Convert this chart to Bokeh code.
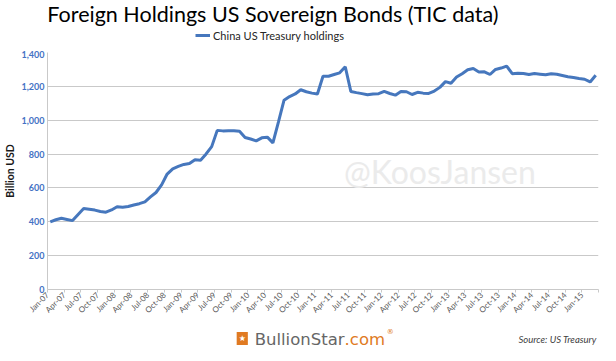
import math
from bokeh.plotting import figure
from bokeh.layouts import column
from bokeh.models import (Range1d, FixedTicker, NumeralTickFormatter, Legend, LegendItem,
                          Label, ColumnDataSource)
from bokeh.embed import file_html
from bokeh.resources import INLINE

# ---- data (China US Treasury holdings, billion USD, monthly Jan-07 .. Mar-15) ----
holdings = [
    400, 412, 421, 414, 407, 443, 478, 474, 469, 461, 457, 470,      # 2007
    489, 486, 490, 499, 507, 518, 547, 573, 618, 682, 713, 727,      # 2008
    739, 744, 767, 764, 801, 844, 940, 937, 938, 938, 935, 898,      # 2009
    889, 878, 896, 900, 866, 990, 1118, 1140, 1155, 1180, 1168, 1160,  # 2010
    1155, 1260, 1260, 1270, 1280, 1316, 1170, 1163, 1157, 1150, 1155, 1157,  # 2011
    1170, 1158, 1148, 1170, 1168, 1152, 1165, 1160, 1158, 1172, 1194, 1228,  # 2012
    1218, 1255, 1275, 1298, 1305, 1285, 1286, 1270, 1300, 1308, 1320, 1275,  # 2013
    1278, 1276, 1270, 1276, 1272, 1268, 1274, 1271, 1264, 1257, 1252, 1246,  # 2014
    1242, 1226, 1266,                                                  # 2015
]
tick_labels = [
    "Jan-07", "Apr-07", "Jul-07", "Oct-07", "Jan-08", "Apr-08", "Jul-08", "Oct-08",
    "Jan-09", "Apr-09", "Jul-09", "Oct-09", "Jan-10", "Apr-10", "Jul-10", "Oct-10",
    "Jan-11", "Apr-11", "Jul-11", "Oct-11", "Jan-12", "Apr-12", "Jul-12", "Oct-12",
    "Jan-13", "Apr-13", "Jul-13", "Oct-13", "Jan-14", "Apr-14", "Jul-14", "Oct-14",
    "Jan-15",
]
y_ticks = [0, 200, 400, 600, 800, 1000, 1200, 1400]
series_name = "China US Treasury holdings"
title_text = "Foreign Holdings US Sovereign Bonds (TIC data)"

n = len(holdings)
src = ColumnDataSource(dict(x=[i + 0.5 for i in range(n)], y=holdings))

BLUE = "#4677bd"
GRID = "#c9c9c9"
ORANGE = "#e07a22"
W = 600


def strip(fig):
    fig.outline_line_color = None
    fig.xgrid.visible = False
    fig.ygrid.visible = False
    fig.background_fill_color = "white"
    fig.border_fill_color = "white"


# ---------------- header (title + legend) ----------------
TOP_H = 50
top = figure(width=W, height=TOP_H, output_backend="svg", toolbar_location=None, title=None,
             x_range=Range1d(0, W), y_range=Range1d(0, TOP_H),
             x_axis_type=None, y_axis_type=None, min_border=0)
strip(top)
top.add_layout(Label(x=245.5, y=TOP_H, text=title_text, text_align="center",
                     text_baseline="top",
                     text_font="Lato", text_font_size="21.5px", text_color="#000000"))
# legend entry drawn from the series (its points lie outside this header's range)
proxy = top.line("x", "y", source=src, line_color=BLUE, line_width=3)
top.add_layout(Legend(items=[LegendItem(label=series_name, renderers=[proxy])],
                      orientation="horizontal", location=(148, 8),
                      border_line_color=None, background_fill_alpha=0,
                      label_text_font="Lato", label_text_font_size="11px",
                      label_text_color="#262626", glyph_width=15, glyph_height=12,
                      label_height=14, padding=0, margin=0, label_standoff=3))

# ---------------- main chart ----------------
p = figure(width=W, height=271, output_backend="svg", toolbar_location=None, title=None,
           x_range=Range1d(0, n), y_range=Range1d(0, 1400),
           min_border_left=37, min_border_right=2, min_border_bottom=29, min_border_top=2)
p.outline_line_color = None
p.background_fill_color = "white"

line = p.line("x", "y", source=src, line_color=BLUE, line_width=3)

p.xgrid.visible = False
p.ygrid.grid_line_color = GRID
p.ygrid.ticker = FixedTicker(ticks=y_ticks)

ya = p.yaxis[0]
ya.ticker = FixedTicker(ticks=y_ticks)
ya.formatter = NumeralTickFormatter(format="0,0")
ya.major_label_text_color = "#4472c4"
ya.major_label_text_font = "Lato"
ya.major_label_text_font_style = "bold"
ya.major_label_text_font_size = "9px"
ya.major_tick_line_color = None
ya.major_tick_out = 0
ya.major_tick_in = 0
ya.minor_tick_line_color = None
ya.axis_line_color = GRID
ya.major_label_standoff = 3
ya.axis_label = "Billion USD"
ya.axis_label_text_font = "Lato"
ya.axis_label_text_font_style = "bold"
ya.axis_label_text_font_size = "10.5px"
ya.axis_label_text_color = "#1a1a1a"
ya.axis_label_standoff = 3

xa = p.xaxis[0]
xt = list(range(0, len(tick_labels) * 3, 3)) + [n]
xa.ticker = FixedTicker(ticks=xt)
overrides = {i * 3: lab for i, lab in enumerate(tick_labels)}
overrides[n] = ""
xa.major_label_overrides = overrides
xa.major_label_orientation = math.pi / 4
xa.major_label_text_font = "Lato"
xa.major_label_text_font_size = "8px"
xa.major_label_text_color = "#595959"
xa.major_tick_out = 3
xa.major_tick_in = 0
xa.major_tick_line_color = GRID
xa.minor_tick_line_color = None
xa.axis_line_color = GRID
xa.major_label_standoff = 1

# watermark
p.add_layout(Label(x=70.5, y=700, text="@KoosJansen", text_align="center",
                   text_baseline="middle", text_font="Lato", text_font_size="32px",
                   text_color="#ebebeb", level="underlay"))

# ---------------- footer (logo + source) ----------------
BOT_H = 24
bot = figure(width=W, height=BOT_H, output_backend="svg", toolbar_location=None, title=None,
             x_range=Range1d(0, W), y_range=Range1d(0, BOT_H),
             x_axis_type=None, y_axis_type=None, min_border=0)
strip(bot)
bot.add_layout(Label(x=206, y=7, text="★", text_font="DejaVu Sans", text_font_size="8px",
                     text_color="white", background_fill_color=ORANGE,
                     text_baseline="alphabetic", padding=2))
bot.add_layout(Label(x=323.5, y=6, text="BullionStar", text_align="right",
                     text_font="DejaVu Sans", text_font_size="16.5px", text_color="#666666",
                     text_baseline="alphabetic"))
bot.add_layout(Label(x=323.5, y=6, text=".com", text_align="left",
                     text_font="DejaVu Sans", text_font_size="16.5px", text_color=ORANGE,
                     text_baseline="alphabetic"))
bot.add_layout(Label(x=369.5, y=14, text="®", text_font="DejaVu Sans", text_font_size="7px",
                     text_color=ORANGE, text_baseline="alphabetic"))
bot.add_layout(Label(x=598, y=6, text="Source: US Treasury", text_align="right",
                     text_font="Lato", text_font_size="9.5px", text_font_style="italic",
                     text_color="#404040", text_baseline="alphabetic"))

layout = column(top, p, bot, spacing=0)
open("out.html", "w").write(file_html(layout, INLINE))
